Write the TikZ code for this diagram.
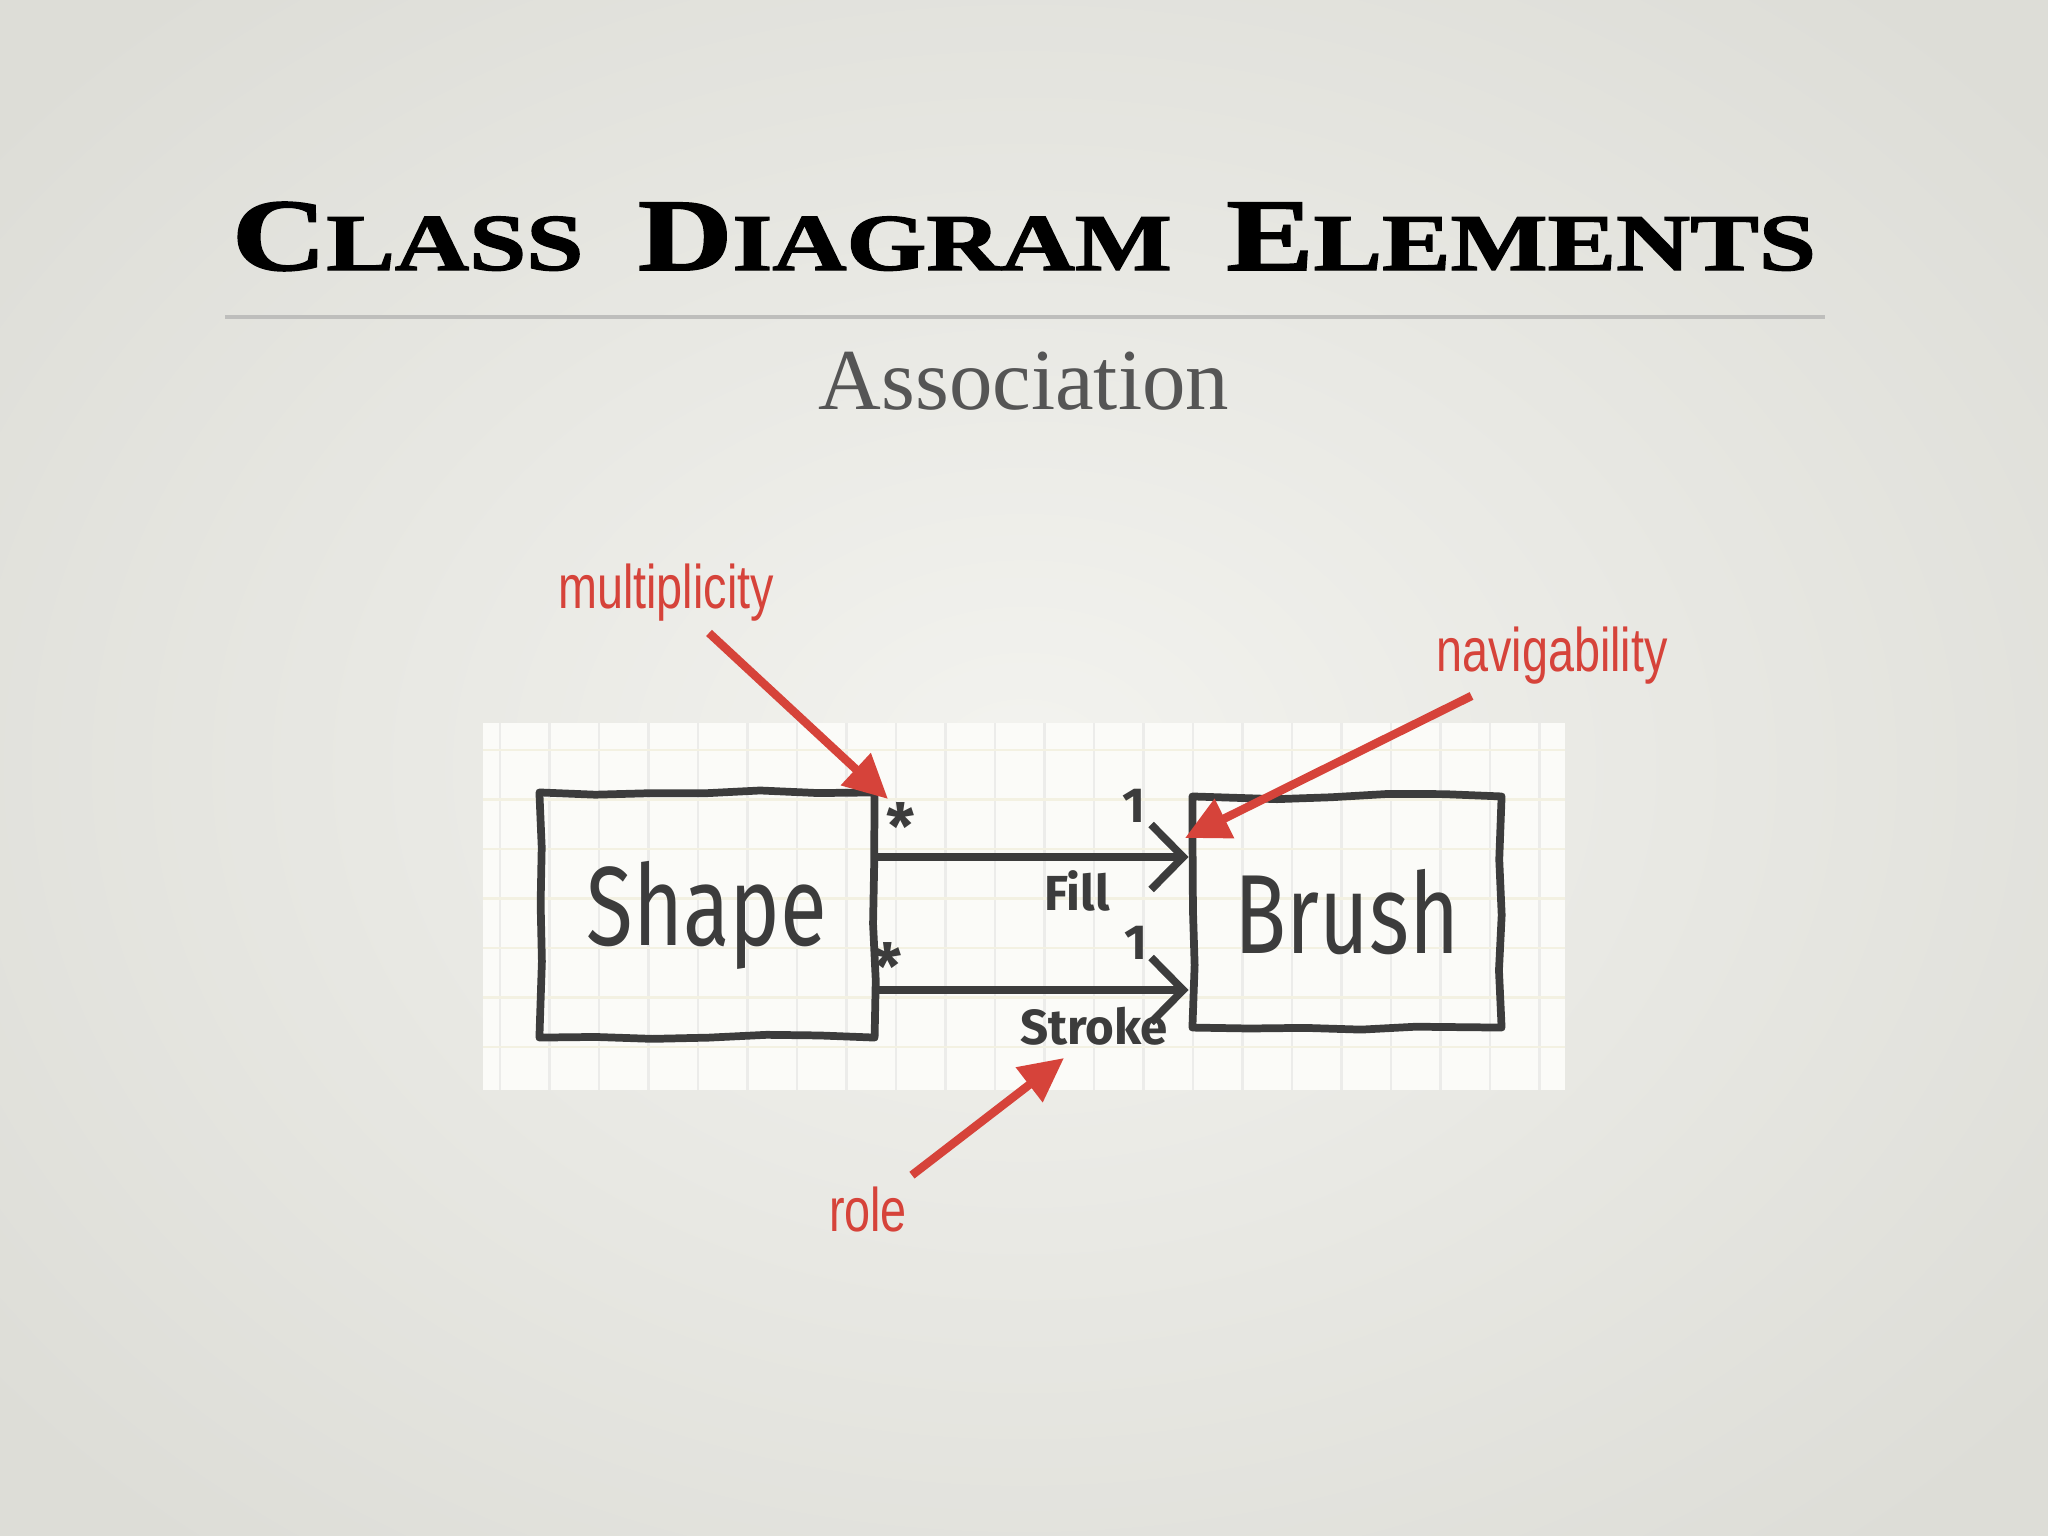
\documentclass[tikz,border=0pt]{standalone}
\usepackage{fontspec}
\usepackage{graphicx}
\usetikzlibrary{arrows.meta,decorations.pathmorphing}
\newfontfamily\calloutFont{Liberation Sans}
\newfontfamily\handFont{Fira Sans}
\newfontfamily\subtitleFont{Liberation Serif}
\newfontfamily\titleFont[FakeBold=1.5]{Liberation Serif Bold}
\definecolor{calloutRed}{RGB}{214,67,58}
\definecolor{penGray}{RGB}{60,60,60}
\definecolor{paperWhite}{RGB}{251,251,248}
\definecolor{gridYellow}{RGB}{243,241,226}
\definecolor{gridGray}{RGB}{236,236,234}
\definecolor{ruleGray}{RGB}{190,190,188}
\definecolor{subtitleGray}{RGB}{85,85,85}
\definecolor{bgInner}{RGB}{243,243,239}
\definecolor{bgOuter}{RGB}{221,221,215}
\tikzstyle{pen}=[draw=penGray,line width=2.2pt,line cap=round,line join=round]
\tikzstyle{classBox}=[pen,text=penGray,font=\handFont\fontsize{32}{32}\selectfont,decorate,decoration={random steps,segment length=16pt,amplitude=0.8pt}]
\tikzstyle{association}=[pen,-{Straight Barb[length=3.2mm,width=6.5mm]}]
\tikzstyle{penLabel}=[text=penGray,font=\handFont\bfseries\fontsize{14}{14}\selectfont,inner sep=0pt]
\tikzstyle{callout}=[text=calloutRed,font=\calloutFont\fontsize{17.5}{17.5}\selectfont,inner sep=3pt]
\tikzstyle{calloutArrow}=[draw=calloutRed,line width=2.4pt,-{Triangle[length=4.4mm,width=4.2mm]}]
\begin{document}
\begin{tikzpicture}[x=0.01cm,y=-0.01cm]
\newcommand{\narrow}[1]{\scalebox{0.76}[1]{#1}}
\newcommand{\smallCap}[1]{{\fontsize{22}{22}\selectfont #1}}
\pgfmathsetseed{7}
        \useasboundingbox (0,0) rectangle (2048,1536);
        \shade[inner color=bgInner,outer color=bgOuter] (-300,-250) rectangle (2348,1786);
        % title and subtitle
        \node[anchor=base] (title) 
        at (1024,270) 
        {\resizebox{15.83cm}{0.68cm}{\titleFont\fontsize{28}{28}\selectfont C\smallCap{LASS}\, D\smallCap{IAGRAM}\, E\smallCap{LEMENTS}}};
        \draw[ruleGray,line width=1.2pt] (225,317) -- (1825,317);
        \node[anchor=base,text=subtitleGray] (subtitle) 
        at (1024,409) 
        {\resizebox{4.1cm}{!}{\subtitleFont\fontsize{25}{25}\selectfont Association}};
        % the squared paper
        \fill[paperWhite] (483,723) rectangle (1565,1090);
        \foreach \gx in {0,...,21} {
                \draw[gridGray,line width=0.8pt] 
                ({500+49.5*\gx},723) -- ++(0,367);
		}
        \foreach \gy in {0,...,6} {
                \draw[gridYellow,line width=0.8pt] 
                (483,{750+49.5*\gy}) -- ++(1082,0);
		}
        % the two classes
        \node[classBox,minimum width=3.35cm,minimum height=2.45cm] (shape) 
        at (707,915) 
        {\narrow{Shape}};
        \node[classBox,minimum width=3.09cm,minimum height=2.31cm] (brush) 
        at (1347,912) 
        {\narrow{Brush}};
        \draw[association] (shape.east |- 0,857) -- (brush.west |- 0,857);
        \draw[association] (shape.east |- 0,990) -- (brush.west |- 0,990);
        \node[penLabel,font=\handFont\bfseries\fontsize{18}{18}\selectfont] (fillMany) 
        at (901,826) 
        {*};
        \node[penLabel] (fillOne) 
        at (1134,806) 
        {1};
        \node[penLabel] (fillRole) 
        at (1077,891) 
        {Fill};
        \node[penLabel,font=\handFont\bfseries\fontsize{18}{18}\selectfont] (strokeMany) 
        at (888,966) 
        {*};
        \node[penLabel] (strokeOne) 
        at (1136,943) 
        {1};
        \node[penLabel] (strokeRole) 
        at (1094,1026) 
        {Stroke};
        % callouts
        \coordinate (multiplicityTip) at (888,799);
        \coordinate (navigabilityTip) at (1185,838);
        \coordinate (roleTip) at (1064,1058);
        \node[callout] (multiplicity) 
        at (666,593) 
        {\narrow{multiplicity}};
        \node[callout] (navigability) 
        at (1552,656) 
        {\narrow{navigability}};
        \node[callout] (role) 
        at (868,1209) 
        {\narrow{role}};
        \draw[calloutArrow] (multiplicity) -- (multiplicityTip);
        \draw[calloutArrow] (navigability) -- (navigabilityTip);
        \draw[calloutArrow] (role) -- (roleTip);
\end{tikzpicture}
\end{document}
